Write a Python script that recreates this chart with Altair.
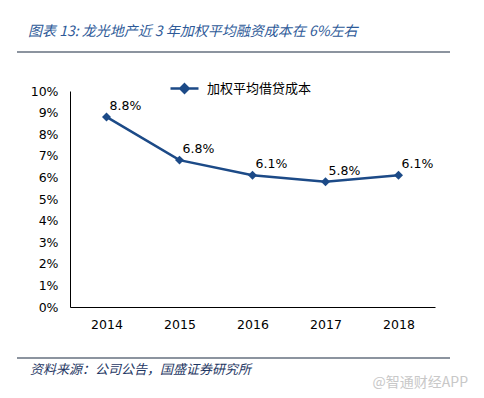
import altair as alt
import pandas as pd

years = ["2014", "2015", "2016", "2017", "2018"]
cost = [8.8, 6.8, 6.1, 5.8, 6.1]
labels = ["8.8%", "6.8%", "6.1%", "5.8%", "6.1%"]
series = "加权平均借贷成本"
y_ticks = list(range(0, 11))
title_text = "图表 13:  龙光地产近 3 年加权平均融资成本在 6%左右"
source_text = "资料来源：公司公告，国盛证券研究所"
watermark_text = "@智通财经APP"

LINE = "#1C4A87"
W, H = 365, 216

df = pd.DataFrame({"year": years, "cost": cost, "label": labels, "series": [series] * len(years)})

x_enc = alt.X("year:N", sort=years, scale=alt.Scale(type="point", padding=0.5),
              axis=alt.Axis(title=None, labelAngle=0, ticks=False, tickSize=0, grid=False,
                            domainColor="#000000", labelColor="#000000",
                            labelFont="DejaVu Sans", labelFontSize=12.5, labelPadding=11))
y_enc = alt.Y("cost:Q", scale=alt.Scale(domain=[0, 10], nice=False, zero=True),
              axis=alt.Axis(title=None, values=y_ticks, ticks=False, tickSize=0, grid=False,
                            labelOverlap=False, tickCount=11,
                            domainColor="#000000", labelColor="#000000",
                            labelFont="DejaVu Sans", labelFontSize=12.5, labelPadding=12,
                            labelExpr="datum.value + '%'"))

sym = "M-1,0L1,0M0,-0.3L0.3,0L0,0.3L-0.3,0Z"

line = alt.Chart(df).mark_line(
    strokeWidth=2.5,
    point=alt.OverlayMarkDef(shape="diamond", size=80, filled=True, color=LINE),
).encode(
    x=x_enc, y=y_enc,
    color=alt.Color("series:N", scale=alt.Scale(domain=[series], range=[LINE]),
                    legend=alt.Legend(orient="none", legendX=99, legendY=-18, title=None,
                                      padding=0, symbolType=sym, symbolSize=784,
                                      symbolStrokeWidth=2.5, symbolFillColor=LINE,
                                      symbolStrokeColor=LINE, labelFont="Noto Sans CJK SC",
                                      labelFontSize=13, labelColor="#000000", labelOffset=7)),
)

text = alt.Chart(df).mark_text(align="left", baseline="middle", dx=3, dy=-11,
                               font="DejaVu Sans", fontSize=12.5, color="#000000").encode(
    x=alt.X("year:N", sort=years), y="cost:Q", text="label:N")

title = alt.Chart(pd.DataFrame({"t": [title_text]})).mark_text(
    align="left", baseline="middle", font="Noto Sans CJK SC", fontSize=14, fontStyle="italic",
    color="#2E5A98").encode(text="t:N", x=alt.value(-42), y=alt.value(-59))
top_rule = alt.Chart(pd.DataFrame({"t": [0]})).mark_rule(color="#1A2A40", strokeWidth=1.2).encode(
    x=alt.value(-53), x2=alt.value(380), y=alt.value(-39))
bottom_rule = alt.Chart(pd.DataFrame({"t": [0]})).mark_rule(color="#1A2A40", strokeWidth=1.2).encode(
    x=alt.value(-53), x2=alt.value(380), y=alt.value(267))
source = alt.Chart(pd.DataFrame({"t": [source_text]})).mark_text(
    align="left", baseline="middle", font="Noto Sans CJK SC", fontSize=13, fontStyle="italic",
    color="#1F3864").encode(text="t:N", x=alt.value(-40), y=alt.value(279))
wm = alt.Chart(pd.DataFrame({"t": [watermark_text]})).mark_text(
    align="right", baseline="middle", font="Noto Sans CJK SC", fontSize=14,
    color="#C8C8C8").encode(text="t:N", x=alt.value(398), y=alt.value(292))

chart = alt.layer(line, text, title, top_rule, bottom_rule, source, wm).properties(
    width=W, height=H,
    padding={"left": 62, "top": 83, "right": 41, "bottom": 83},
    autosize=alt.AutoSizeParams(type="none"),
    background="#FFFFFF",
).configure_view(stroke=None)

chart.save("out.html", embed_options={"renderer": "svg", "actions": False})
